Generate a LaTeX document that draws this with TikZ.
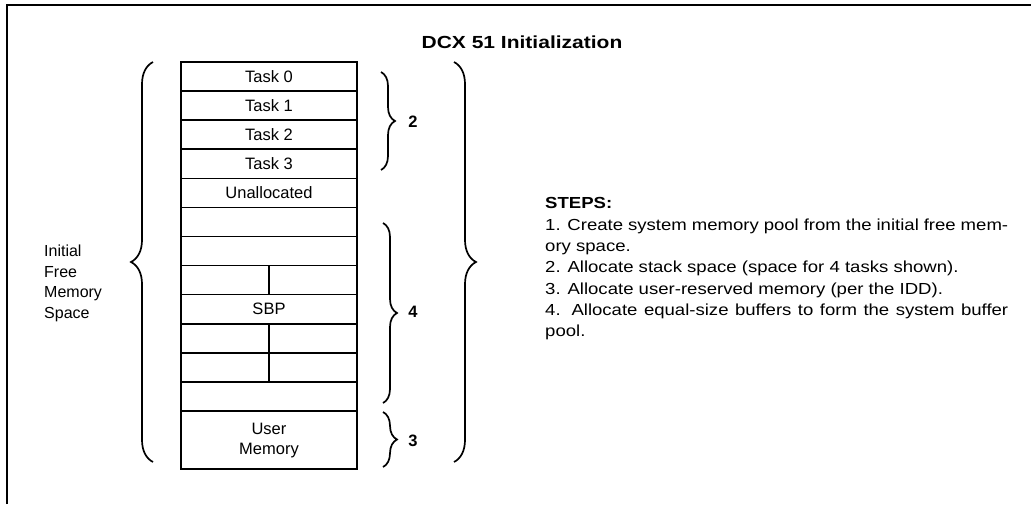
\documentclass[tikz,border=0pt]{standalone}
\usepackage{fontspec}
\setmainfont{Liberation Sans}
\newfontfamily\stepfont{Liberation Sans}[FakeStretch=1.16]
\newfontfamily\headfont{Liberation Sans}[FakeStretch=1.2]
\usetikzlibrary{decorations.pathreplacing}

\begin{document}
\begin{tikzpicture}[x=1pt,y=-1pt,
    memrow/.style={draw,line width=1.6pt,minimum width=176pt,minimum height=29.08pt,
      inner sep=0pt,outer sep=0pt,font=\fontsize{16.5}{20}\selectfont},
    splitline/.style={line width=1.6pt},
    curly/.style={decorate,decoration={brace,amplitude=#1},line width=1.7pt},
    stepno/.style={font=\fontsize{16.5}{20}\selectfont\bfseries}]
  \useasboundingbox (0,0) rectangle (1031,504);

  % Frame
  \draw[line width=2.2pt] (7,504) -- (7,5) -- (1031,5);

  % Title
  \node[anchor=base,font=\headfont\bfseries\fontsize{17.5}{20}\selectfont] (title) at (522,48) {DCX 51 Initialization};

  % Memory map
  \node[memrow] (task0)   at (269,76.5)  {Task 0};
  \node[memrow] (task1)   at (269,105.6) {Task 1};
  \node[memrow] (task2)   at (269,134.7) {Task 2};
  \node[memrow] (task3)   at (269,163.8) {Task 3};
  \node[memrow] (unalloc) at (269,192.9) {Unallocated};
  \node[memrow] (buf1)    at (269,222.0) {};
  \node[memrow] (buf2)    at (269,251.0) {};
  \node[memrow] (buf3)    at (269,280.1) {};
  \node[memrow] (buf4)    at (269,309.2) {SBP};
  \node[memrow] (buf5)    at (269,338.3) {};
  \node[memrow] (buf6)    at (269,367.4) {};
  \node[memrow] (buf7)    at (269,396.5) {};
  \node[memrow,minimum height=58.16pt,align=center] (user) at (269,440.1) {User\\Memory};

  % Split buffers
  \draw[splitline] (buf3.north) -- (buf3.south);
  \draw[splitline] (buf5.north) -- (buf5.south);
  \draw[splitline] (buf6.north) -- (buf6.south);

  % Braces
  \draw[curly=22pt] (153,462) -- (153,62);   % initial free memory
  \draw[curly=22pt] (454,62)  -- (454,462);  % whole pool
  \draw[curly=14pt] (381,72)  -- (381,170);  % stacks
  \draw[curly=14pt] (383,223) -- (383,403);  % buffers
  \draw[curly=14pt] (383,412) -- (383,467);  % user memory

  % Labels
  \node[anchor=north west,align=left,inner sep=0pt,font=\fontsize{16}{20.5}\selectfont]
    (free) at (44,245) {Initial\\Free\\Memory\\Space};
  \node[stepno] (n2) at (413,122) {2};
  \node[stepno] (n4) at (413,312) {4};
  \node[stepno] (n3) at (413,441) {3};

  % Steps
  \node[anchor=north west,align=left,inner sep=0pt,font=\stepfont\fontsize{16}{21.3}\selectfont]
    (steps) at (545,197.5) {\textbf{STEPS:}\\
    \makebox[463pt][s]{1. Create system memory pool from the initial free mem-}\\
    ory space.\\
    2. Allocate stack space (space for 4 tasks shown).\\
    3. Allocate user-reserved memory (per the IDD).\\
    \makebox[463pt][s]{4. Allocate equal-size buffers to form the system buffer}\\
    pool.};
\end{tikzpicture}
\end{document}
